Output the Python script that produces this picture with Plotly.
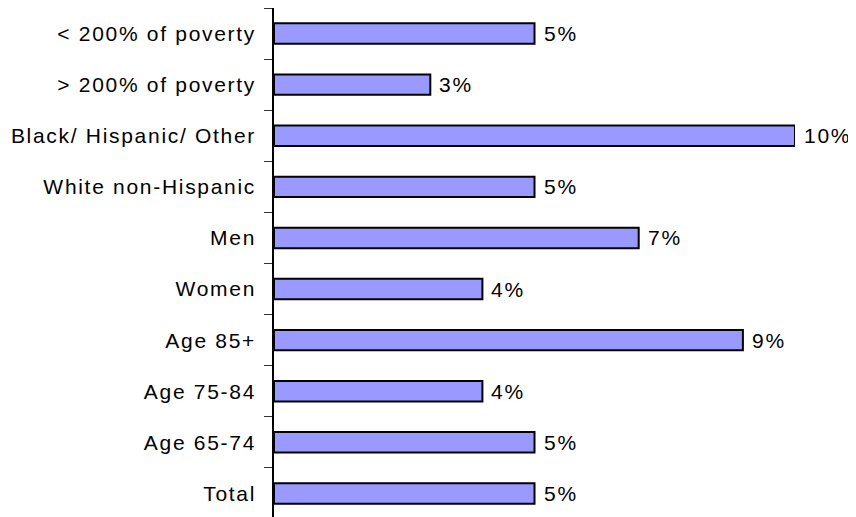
import plotly.graph_objects as go

categories = ["< 200% of poverty", "> 200% of poverty", "Black/ Hispanic/ Other",
              "White non-Hispanic", "Men", "Women", "Age 85+", "Age 75-84",
              "Age 65-74", "Total"]
values = [5, 3, 10, 5, 7, 4, 9, 4, 5, 5]
labels = [f"{v}%" for v in values]

cats_rev = categories[::-1]
vals_rev = values[::-1]
labs_rev = labels[::-1]

SP = '<span style="letter-spacing:1.7px">{}</span>'
FONT = "Liberation Sans, Arial"

fig = go.Figure()
fig.add_trace(go.Bar(
    y=cats_rev, x=vals_rev, orientation="h", width=0.4,
    marker=dict(color="#9999FF", line=dict(color="black", width=2)),
    hoverinfo="skip",
))
for c, v, t in zip(cats_rev, vals_rev, labs_rev):
    fig.add_annotation(x=v, y=c, text=SP.format(t), showarrow=False,
                       xanchor="left", xshift=7,
                       font=dict(size=21, color="black", family=FONT))

fig.update_layout(
    width=848, height=509,
    margin=dict(l=266, r=61, t=0, b=0),
    plot_bgcolor="white", paper_bgcolor="white",
    showlegend=False,
    font=dict(family=FONT, size=21, color="black"),
    xaxis=dict(visible=False, range=[0, 10]),
    yaxis=dict(
        type="category", range=[-0.461, 9.5],
        tickmode="array", tickvals=cats_rev,
        ticktext=[SP.format(c) for c in cats_rev],
        showline=True, linecolor="black", linewidth=1.5,
        ticks="outside", ticklen=8, tickcolor="#333333", tickwidth=1,
        tickson="boundaries", showgrid=False,
        ticklabelstandoff=12,
    ),
)
fig.write_html("out.html")
